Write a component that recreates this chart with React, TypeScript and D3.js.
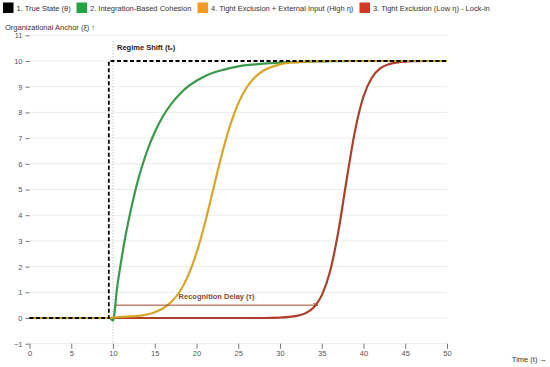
import React, { useEffect, useRef } from 'react'
import * as d3 from 'd3'

// values
const times = [0, 5, 9.6, 10, 10.5, 11, 11.5, 12, 13, 14, 15, 16, 17, 18, 19, 20, 21, 22, 23, 24, 25, 26, 27, 28, 30, 32, 33, 34, 35, 36, 37, 38, 39, 40, 41, 42, 43, 44, 46, 48, 50]
const greenValues = [0, 0, 0, -0.1, 1.2, 2.26, 3.2, 4.0, 5.37, 6.42, 7.23, 7.86, 8.34, 8.72, 9.01, 9.23, 9.41, 9.54, 9.64, 9.72, 9.79, 9.84, 9.87, 9.9, 9.94, 9.96, 9.97, 9.98, 9.98, 9.99, 9.99, 10, 10, 10, 10, 10, 10, 10, 10, 10, 10]
const orangeValues = [0, 0, 0, 0.02, 0.03, 0.04, 0.05, 0.06, 0.08, 0.13, 0.22, 0.38, 0.63, 1.03, 1.65, 2.53, 3.68, 5.0, 6.32, 7.47, 8.35, 8.97, 9.37, 9.62, 9.87, 9.95, 9.97, 9.98, 9.99, 10, 10, 10, 10, 10, 10, 10, 10, 10, 10, 10, 10]
const redValues = [0, 0, 0, 0, 0, 0, 0, 0, 0, 0, 0, 0, 0, 0, 0, 0, 0, 0, 0, 0, 0, 0, 0, 0, 0.015, 0.08, 0.18, 0.4, 0.88, 1.82, 3.39, 5.42, 7.31, 8.62, 9.35, 9.71, 9.87, 9.94, 9.99, 10, 10]
const trueTimes = [0, 9.5, 9.5, 50]
const trueValues = [0, 0, 10, 10]

const xTicks = [0, 5, 10, 15, 20, 25, 30, 35, 40, 45, 50]
const yTicks = [-1, 0, 1, 2, 3, 4, 5, 6, 7, 8, 9, 10, 11]

const legendItems = [
  { label: '1. True State (θ)', color: '#000000' },
  { label: '2. Integration-Based Cohesion', color: '#22a442' },
  { label: '4. Tight Exclusion + External Input (High η)', color: '#f39a1f' },
  { label: '3. Tight Exclusion (Low η) - Lock-in', color: '#cf3a26' },
]
const legendX = [3, 76.5, 197.5, 359.5]

const regimeShift = 10
const delayStart = 10.3
const delayEnd = 34.5
const delayLevel = 0.5

const font = '"Liberation Sans", Arial, sans-serif'

export default function App() {
  const svgRef = useRef<SVGSVGElement>(null)

  useEffect(() => {
    document.body.style.margin = '0'
    const width = 550
    const height = 367
    const margin = { top: 35.3, right: 103, bottom: 23.3, left: 29.5 }

    const svg = d3.select(svgRef.current)
    svg.selectAll('*').remove()

    const x = d3.scaleLinear().domain([0, 50]).range([margin.left, width - margin.right])
    const y = d3.scaleLinear().domain([-1, 11]).range([height - margin.bottom, margin.top])

    // grid
    svg.append('g')
      .selectAll('line')
      .data(yTicks)
      .join('line')
      .attr('x1', x(0))
      .attr('x2', x(50))
      .attr('y1', (d) => y(d))
      .attr('y2', (d) => y(d))
      .attr('stroke', '#ececec')
      .attr('stroke-width', 1)

    const yAxis = svg.append('g')
      .attr('transform', `translate(${x(0)},0)`)
      .call(d3.axisLeft(y).tickValues(yTicks).tickSize(4).tickPadding(3).tickFormat(d3.format('d')))
    yAxis.select('.domain').remove()
    yAxis.selectAll('line').attr('stroke', '#777')
    yAxis.selectAll('text').style('font-family', font).style('font-size', '7.5px').attr('fill', '#555')

    const xAxis = svg.append('g')
      .attr('transform', `translate(0,${y(-1)})`)
      .call(d3.axisBottom(x).tickValues(xTicks).tickSize(5).tickPadding(2).tickFormat(d3.format('d')))
    xAxis.select('.domain').remove()
    xAxis.selectAll('line').attr('stroke', '#777')
    xAxis.selectAll('text').style('font-family', font).style('font-size', '7.5px').attr('fill', '#555')

    // regime shift marker
    svg.append('line')
      .attr('x1', x(regimeShift))
      .attr('x2', x(regimeShift))
      .attr('y1', y(11) + 6)
      .attr('y2', y(-1) + 6)
      .attr('stroke', '#999')
      .attr('stroke-width', 0.8)
      .attr('stroke-dasharray', '1,2')

    svg.append('text')
      .attr('x', x(regimeShift) + 4)
      .attr('y', y(10) - 11)
      .style('font-family', font)
      .style('font-size', '7.5px')
      .style('font-weight', 700)
      .attr('fill', '#222')
      .text('Regime Shift (tₑ)')

    const line = d3.line<number>()
      .x((_, i) => x(times[i]))
      .y((d) => y(d))
      .curve(d3.curveMonotoneX)

    const series = [
      { values: redValues, color: '#a8361f' },
      { values: greenValues, color: '#2e9440' },
      { values: orangeValues, color: '#d6a01c' },
    ]
    series.forEach((s) => {
      svg.append('path')
        .datum(s.values)
        .attr('d', line)
        .attr('fill', 'none')
        .attr('stroke', s.color)
        .attr('stroke-width', 2.2)
        .attr('stroke-linejoin', 'round')
        .attr('opacity', 0.95)
    })

    const trueLine = d3.line<number>()
      .x((_, i) => x(trueTimes[i]))
      .y((d) => y(d))

    svg.append('path')
      .datum(trueValues)
      .attr('d', trueLine)
      .attr('fill', 'none')
      .attr('stroke', '#000')
      .attr('stroke-width', 1.8)
      .attr('stroke-dasharray', '4,2.5')

    // recognition delay arrow
    svg.append('defs').append('marker')
      .attr('id', 'arrow')
      .attr('viewBox', '0 0 10 10')
      .attr('refX', 9)
      .attr('refY', 5)
      .attr('markerWidth', 5)
      .attr('markerHeight', 5)
      .attr('orient', 'auto')
      .append('path')
      .attr('d', 'M0,1L10,5L0,9')
      .attr('fill', 'none')
      .attr('stroke', '#a0472c')
      .attr('stroke-width', 1.5)

    svg.append('line')
      .attr('x1', x(delayStart))
      .attr('x2', x(delayEnd))
      .attr('y1', y(delayLevel))
      .attr('y2', y(delayLevel))
      .attr('stroke', '#a0472c')
      .attr('stroke-width', 1)
      .attr('marker-end', 'url(#arrow)')

    svg.append('text')
      .attr('x', x((delayStart + delayEnd) / 2))
      .attr('y', y(delayLevel) - 6)
      .attr('text-anchor', 'middle')
      .style('font-family', font)
      .style('font-size', '7.5px')
      .style('font-weight', 700)
      .attr('fill', '#8a4a2c')
      .text('Recognition Delay (τ)')

    // axis titles
    svg.append('text')
      .attr('x', 5)
      .attr('y', 29.5)
      .style('font-family', font)
      .style('font-size', '7.5px')
      .attr('fill', '#333')
      .text('Organizational Anchor (ξ) ↑')

    svg.append('text')
      .attr('x', 547)
      .attr('y', 362)
      .attr('text-anchor', 'end')
      .style('font-family', font)
      .style('font-size', '7.5px')
      .attr('fill', '#333')
      .text('Time (t) →')

    // legend
    const legend = svg.append('g')
    legendItems.forEach((item, i) => {
      const g = legend.append('g').attr('transform', `translate(${legendX[i]},2.5)`)
      g.append('rect').attr('width', 10.5).attr('height', 10.5).attr('fill', item.color)
      g.append('text')
        .attr('x', 13.5)
        .attr('y', 8)
        .style('font-family', font)
        .style('font-size', '7.5px')
        .attr('fill', '#333')
        .text(item.label)
    })
  }, [])

  return <svg ref={svgRef} width={550} height={367} style={{ display: 'block' }} />
}
